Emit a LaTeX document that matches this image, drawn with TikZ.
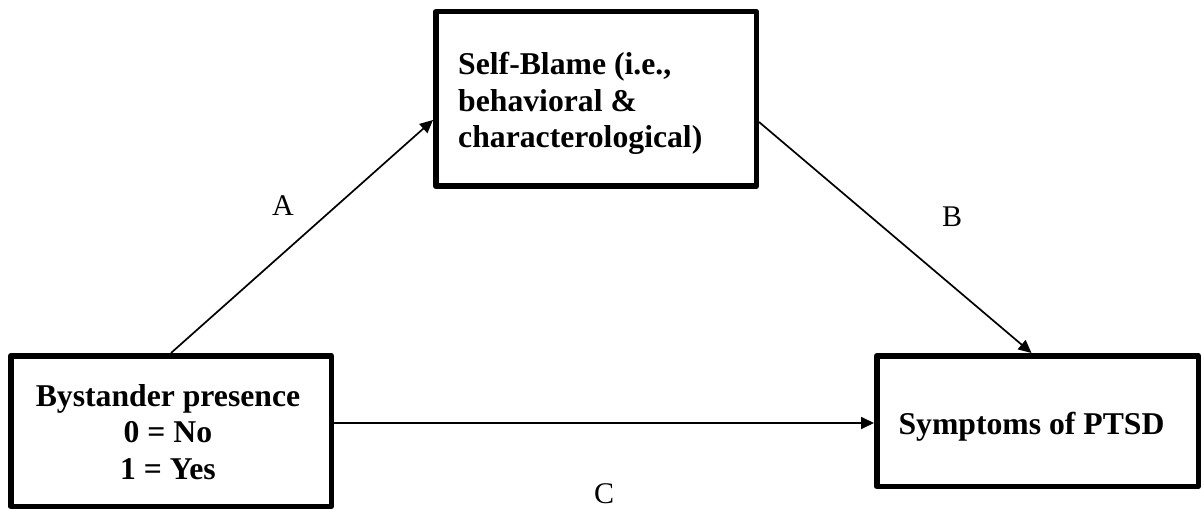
\documentclass[tikz,border=0pt]{standalone}
\usepackage{fontspec}
\setmainfont{Liberation Serif}
\usetikzlibrary{arrows.meta}
\tikzset{
  boxnode/.style={draw=black, line width=5.5pt, line join=round, fill=white, inner sep=0pt},
  boldtext/.style={inner sep=0pt, font=\fontsize{31.7}{36.7}\selectfont\bfseries},
  pathlabel/.style={inner sep=0pt, font=\fontsize{30}{34}\selectfont},
  conn/.style={draw=black, line width=1.7pt, -{Triangle[length=13pt,width=12pt]}}
}
\begin{document}
\begin{tikzpicture}[x=1pt, y=-1pt]
\useasboundingbox (0,0) rectangle (1204,510);
\fill[white] (0,0) rectangle (1204,510);
% boxes
\node[boxnode, minimum width=320.5pt, minimum height=150.5pt] (b1) at (171,431) {};
\node[boxnode, minimum width=320.5pt, minimum height=174.5pt] (b2) at (596,99) {};
\node[boxnode, minimum width=321.5pt, minimum height=130.5pt] (b3) at (1037.5,421) {};
% texts
\node[boldtext, align=center] (t1) at (168,432) {Bystander presence\\0 = No\\1 = Yes};
\node[boldtext, align=left, anchor=west] (t2) at (458,103.5) {Self-Blame (i.e.,\\behavioral \&\\characterological)};
\node[boldtext, anchor=base] (t3) at (1031.5,434) {Symptoms of PTSD};
% connectors
\draw[conn] (b1.north) -- ([yshift=-21pt]b2.west);
\draw[conn] ([yshift=-23pt]b2.east) -- ([xshift=-6pt]b3.north);
\coordinate (cstart) at ([yshift=8pt]b1.east);
\draw[conn] (cstart) -- (cstart -| b3.west);
% labels
\node[pathlabel] (la) at (283,206) {A};
\node[pathlabel] (lb) at (952,217) {B};
\node[pathlabel] (lc) at (604,494) {C};
\end{tikzpicture}
\end{document}
